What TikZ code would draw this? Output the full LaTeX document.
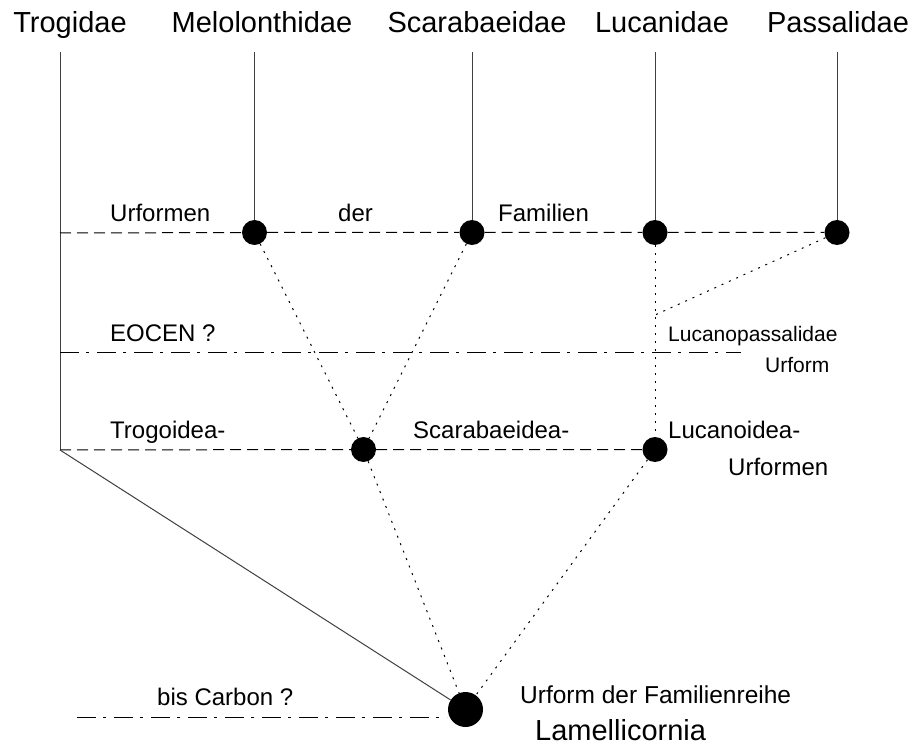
\documentclass[tikz,border=0pt]{standalone}
\usepackage{fontspec}
\setmainfont{Liberation Sans}
\begin{document}
\begin{tikzpicture}[x=1pt,y=-1pt,
  dotnode/.style={circle,fill=black,inner sep=0pt,minimum size=25pt},
  bigdot/.style={circle,fill=black,inner sep=0pt,minimum size=35pt},
  stem/.style={line width=1pt,draw=black!75},
  dashline/.style={line width=1pt,dash pattern=on 11pt off 6pt},
  dotdash/.style={line width=1pt,dash pattern=on 19pt off 7pt on 3pt off 8pt},
  dotline/.style={line width=1pt,dash pattern=on 2pt off 6pt},
  title/.style={anchor=base,inner sep=0pt,font=\fontsize{29}{32}\selectfont},
  lab/.style={anchor=base west,inner sep=0pt,font=\fontsize{24}{28}\selectfont},
  small/.style={anchor=base west,inner sep=0pt,font=\fontsize{21}{24}\selectfont}]
\useasboundingbox (0,0) rectangle (914,746);
% titles
\node[title] (tTro) at (70,33) {Trogidae};
\node[title] (tMel) at (262,33) {Melolonthidae};
\node[title] (tSca) at (477,33) {Scarabaeidae};
\node[title] (tLuc) at (662,33) {Lucanidae};
\node[title] (tPas) at (838,33) {Passalidae};
% top coordinates of stems
\coordinate (sTro) at (60,52);
\coordinate (sMel) at (254.5,52);
\coordinate (sSca) at (472,52);
\coordinate (sLuc) at (655,52);
\coordinate (sPas) at (837,52);
% dots
\node[dotnode] (dMel) at (254.5,232.5) {};
\node[dotnode] (dSca) at (472,232.5) {};
\node[dotnode] (dLuc) at (655,232.5) {};
\node[dotnode] (dPas) at (837,232.5) {};
\node[dotnode] (dScI) at (363.5,449.5) {};
\node[dotnode] (dLuI) at (655,449.5) {};
\node[bigdot] (dRoot) at (465.5,709.5) {};
% other coordinates
\coordinate (uL) at (60,233);
\coordinate (eL) at (60,353);
\coordinate (eR) at (741,353);
\coordinate (trL) at (60,450);
\coordinate (lp) at (655,315);
\coordinate (bL) at (77,717);
\coordinate (bR) at (447,717);
% stems
\draw[stem] (sTro) -- (trL);
\draw[stem] (sMel) -- (dMel);
\draw[stem] (sSca) -- (dSca);
\draw[stem] (sLuc) -- (dLuc);
\draw[stem] (sPas) -- (dPas);
% horizontal lines
\draw[dashline] (uL) -- (dMel) -- (dSca) -- (dLuc) -- (dPas);
\draw[dotdash] (eL) -- (eR);
\draw[dashline] (trL) -- (dScI) -- (dLuI);
\draw[dotdash] (bL) -- (bR);
% diagonal connectors
\draw[dotline] (dMel) -- (dScI);
\draw[dotline] (dSca) -- (dScI);
\draw[dotline] (dLuc) -- (dLuI);
\draw[dotline] (dPas) -- (lp);
\draw[dotline] (dScI) -- (dRoot);
\draw[dotline] (dLuI) -- (dRoot);
\draw[stem] (trL) -- (dRoot);
% labels
\node[lab] (l1) at (110,222) {Urformen};
\node[lab] (l2) at (338,222) {der};
\node[lab] (l3) at (498,222) {Familien};
\node[lab] (l4) at (110,342) {EOCEN ?};
\node[small] (l5) at (668,342) {Lucanopassalidae};
\node[small] (l6) at (765,373) {Urform};
\node[lab] (l7) at (110,438) {Trogoidea-};
\node[lab] (l8) at (413,438) {Scarabaeidea-};
\node[lab] (l9) at (668,438) {Lucanoidea-};
\node[lab] (l10) at (728,475) {Urformen};
\node[lab] (l11) at (157,705) {bis Carbon ?};
\node[lab,font=\fontsize{24.5}{28}\selectfont] (l12) at (520,703) {Urform der Familienreihe};
\node[lab,font=\fontsize{29}{32}\selectfont] (l13) at (535,740) {Lamellicornia};
\end{tikzpicture}
\end{document}
